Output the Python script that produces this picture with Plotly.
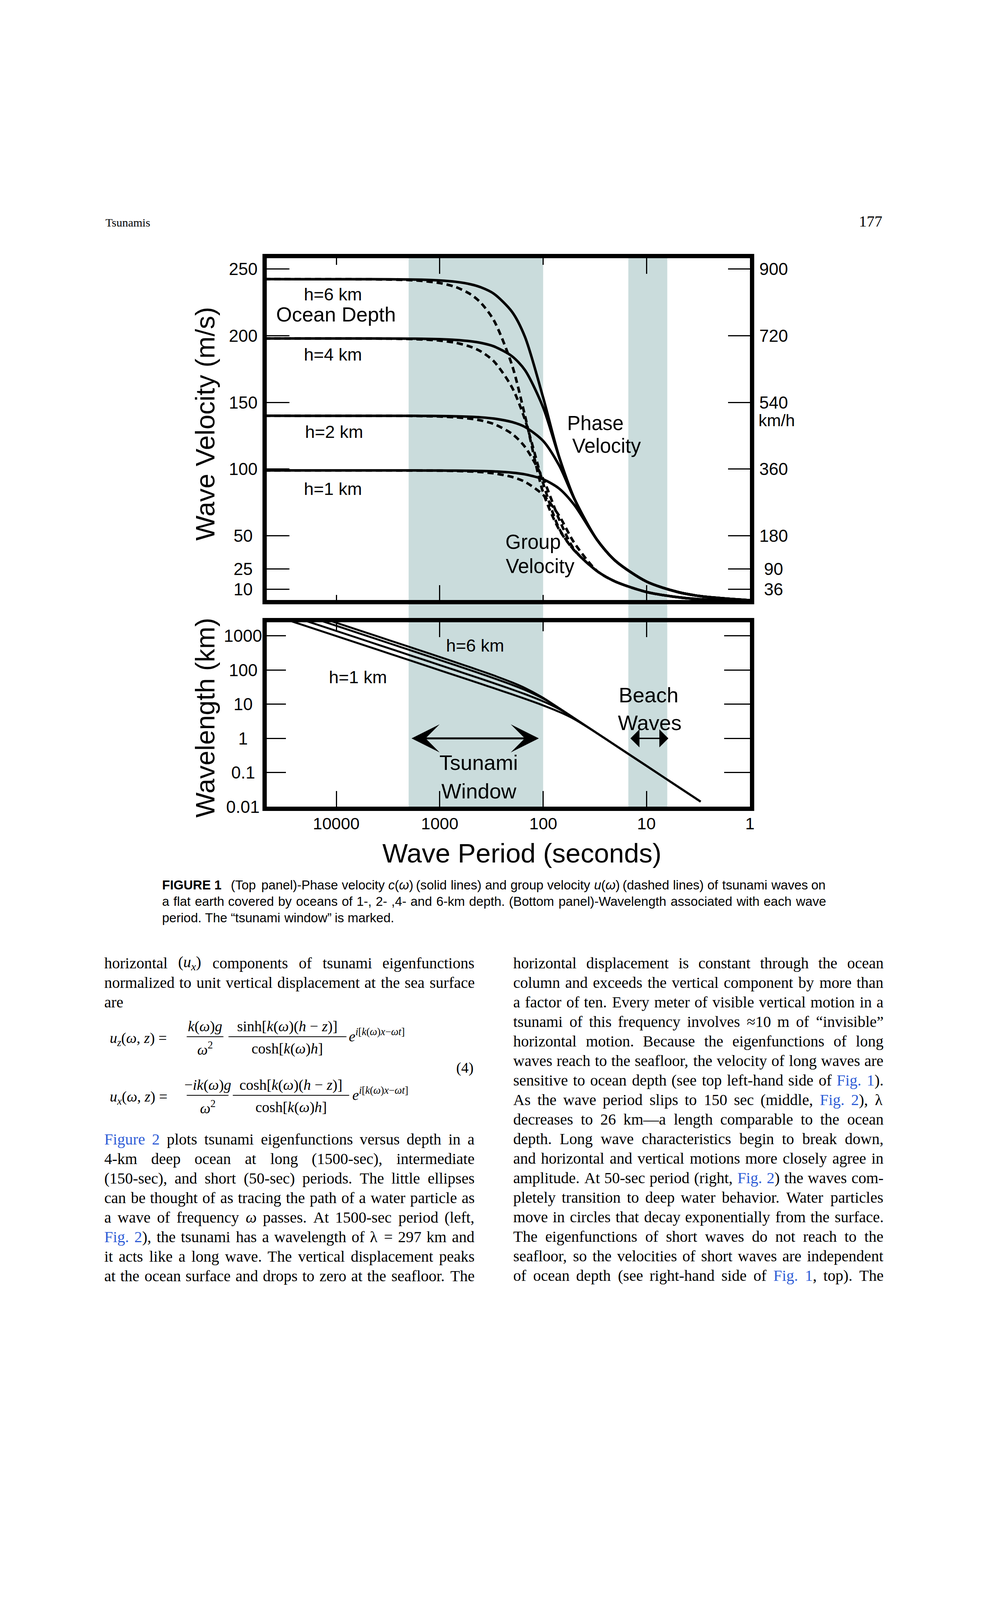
import math
import plotly.graph_objects as go

W, H = 2550, 4200

# ----------------------------- data -----------------------------
# wave period (s) sampled along the curves of the top panel
periods = [50000, 5000, 3000, 2000, 1500, 1000, 700, 500, 400, 300, 200,
           150, 100, 70, 50, 30, 20, 10, 5, 3, 1]

# phase velocity c (m/s), solid lines
phase_h1 = [99.0, 99.0, 98.99, 98.98, 98.97, 98.93, 98.86, 98.73, 98.58, 98.26, 97.34,
            96.04, 92.33, 85.41, 73.13, 46.78, 31.19, 15.60, 7.80, 4.68, 1.56]
phase_h2 = [140.0, 139.99, 139.98, 139.95, 139.92, 139.81, 139.61, 139.25, 138.83, 137.91, 135.29,
            131.61, 121.16, 102.75, 77.75, 46.79, 31.19, 15.60, 7.80, 4.68, 1.56]
phase_h4 = [198.0, 197.97, 197.93, 197.86, 197.75, 197.46, 196.91, 195.87, 194.68, 192.08, 184.66,
            174.28, 146.26, 108.88, 77.98, 46.79, 31.19, 15.60, 7.80, 4.68, 1.56]
phase_h6 = [242.5, 242.45, 242.38, 242.25, 242.06, 241.51, 240.50, 238.58, 236.37, 231.60, 217.97,
            199.22, 153.68, 109.17, 77.99, 46.79, 31.19, 15.60, 7.80, 4.68, 1.56]

# group velocity u (m/s), dashed lines
group_h1 = [99.0, 99.0, 98.98, 98.95, 98.91, 98.80, 98.59, 98.20, 97.75, 96.80, 94.12,
            90.45, 80.65, 64.98, 44.66, 23.45, 15.60, 7.80, 3.90, 2.34, 0.78]
group_h2 = [140.0, 139.98, 139.94, 139.86, 139.75, 139.43, 138.84, 137.76, 136.51, 133.84, 126.46,
            116.71, 92.66, 62.29, 39.66, 23.40, 15.60, 7.80, 3.90, 2.34, 0.78]
group_h4 = [198.0, 197.93, 197.81, 197.59, 197.28, 196.39, 194.77, 191.70, 188.24, 180.90, 161.30,
            137.20, 89.32, 55.42, 39.00, 23.40, 15.60, 7.80, 3.90, 2.34, 0.78]
group_h6 = [242.5, 242.37, 242.16, 241.76, 241.19, 239.57, 236.57, 230.99, 224.72, 211.65, 178.02,
            140.20, 82.42, 54.64, 39.00, 23.40, 15.60, 7.80, 3.90, 2.34, 0.78]

# bottom panel: wavelength (km) against period (s)
wl_periods = [50000, 5000, 3000, 2000, 1500, 1000, 700, 500, 400, 300, 200,
              150, 100, 70, 50, 30, 20, 10, 5, 3]
wl_h1 = [4950, 495.0, 297.0, 198.0, 148.5, 98.93, 69.20, 49.37, 39.43, 29.48, 19.47,
         14.41, 9.233, 5.979, 3.657, 1.403, 0.6238, 0.156, 0.039, 0.01404]
wl_h2 = [7000, 700.0, 419.9, 279.9, 209.9, 139.8, 97.73, 69.63, 55.53, 41.37, 27.06,
         19.74, 12.12, 7.193, 3.888, 1.404, 0.6238, 0.156, 0.039, 0.01404]
wl_h4 = [9900, 989.9, 593.8, 395.7, 296.6, 197.5, 137.8, 97.94, 77.87, 57.62, 36.93,
         26.14, 14.63, 7.622, 3.899, 1.404, 0.6238, 0.156, 0.039, 0.01404]
wl_h6 = [12125, 1212, 727.1, 484.5, 363.1, 241.5, 168.4, 119.3, 94.55, 69.48, 43.59,
         29.88, 15.37, 7.642, 3.900, 1.404, 0.6238, 0.156, 0.039, 0.01404]

# shaded period bands (s)
tsunami_window = [2000, 100]
beach_waves = [15, 6.3]
# double arrows (s) drawn at a wavelength of 1 km
tsunami_arrow = [1900, 110]
beach_arrow = [14.5, 6.15]

# tick values / labels
vel_ticks = [250, 200, 150, 100, 50, 25, 10]
vel_tick_text = ["250", "200", "150", "100", "50", "25", "10"]
kmh_tick_text = ["900", "720", "540", "360", "180", "90", "36"]
wl_ticks = [1000, 100, 10, 1, 0.1, 0.01]
wl_tick_text = ["1000", "100", "10", "1", "0.1", "0.01"]
period_ticks = [10000, 1000, 100, 10, 1]
period_tick_text = ["10000", "1000", "100", "10", "1"]

# ----------------------------- helpers -----------------------------
SANS = "Liberation Sans, Arial, Helvetica, sans-serif"
SERIF = "Liberation Serif, Times New Roman, serif"
LINK = "#2E5CD6"
SHADE = "#CADCDC"
OFF = 8  # default body margin of the html page


def px(x):
    return (x - OFF) / W


def py(y):
    return 1 - (y - OFF) / H


fig = go.Figure()

# ----------------------------- traces -----------------------------
for g in [group_h1, group_h2, group_h4, group_h6]:
    fig.add_trace(go.Scatter(x=periods, y=g, mode="lines", xaxis="x4", yaxis="y",
                             line=dict(color="black", width=6.5, dash="16px,10px",
                                       shape="spline", smoothing=0.8),
                             hoverinfo="skip", showlegend=False))
for c in [phase_h1, phase_h2, phase_h4, phase_h6]:
    fig.add_trace(go.Scatter(x=periods, y=c, mode="lines", xaxis="x", yaxis="y3",
                             line=dict(color="black", width=6.5, shape="spline", smoothing=0.8),
                             hoverinfo="skip", showlegend=False))

for wl, xa, ya in [(wl_h1, "x2", "y2"), (wl_h2, "x2", "y2"), (wl_h4, "x3", "y2"), (wl_h6, "x2", "y4")]:
    fig.add_trace(go.Scatter(x=wl_periods, y=wl, mode="lines", xaxis=xa, yaxis=ya,
                             line=dict(color="black", width=5, shape="spline", smoothing=0.6),
                             hoverinfo="skip", showlegend=False))

# ----------------------------- axes -----------------------------
X_DOMAIN = [px(683), px(1920)]
X_RANGE = [4.673, 0]
TOP_DOMAIN = [py(1536), py(661)]
BOT_DOMAIN = [py(2065), py(1593)]
VEL_RANGE = [1.8, 258.2]
WL_RANGE = [-2, 3.4]

base = dict(showgrid=False, zeroline=False, tickcolor="black", tickwidth=3, linecolor="black")


def minor(length):
    return dict(tickvals=[10000, 100], ticks="inside", ticklen=length,
                tickwidth=3, tickcolor="black")


fig.update_layout(
    # top panel, bottom side
    xaxis=dict(base, type="log", domain=X_DOMAIN, range=X_RANGE, anchor="y",
               ticks="inside", tickvals=[1000, 10], ticklen=38, showticklabels=False,
               showline=True, linewidth=11, mirror=True, minor=minor(13)),
    # top panel, top side
    xaxis4=dict(base, type="log", overlaying="x", side="top", anchor="y", range=X_RANGE,
                ticks="inside", tickvals=[1000, 10], ticklen=40, showticklabels=False,
                showline=False, minor=minor(17)),
    yaxis=dict(base, domain=TOP_DOMAIN, range=VEL_RANGE, anchor="x",
               ticks="inside", tickvals=vel_ticks, ticklen=58, showticklabels=False,
               showline=True, linewidth=11, mirror=True),
    yaxis3=dict(base, overlaying="y", side="right", anchor="x", range=VEL_RANGE,
                ticks="inside", tickvals=vel_ticks, ticklen=56, showticklabels=False,
                showline=False),
    # bottom panel
    xaxis2=dict(base, type="log", domain=X_DOMAIN, range=X_RANGE, anchor="y2",
                ticks="inside", tickvals=[10000, 1000, 100, 10], ticklen=40,
                showticklabels=False, showline=True, linewidth=11, mirror=True),
    xaxis3=dict(base, type="log", overlaying="x2", side="top", anchor="y2", range=X_RANGE,
                ticks="inside", tickvals=[1000, 10], ticklen=38, showticklabels=False,
                showline=False, minor=minor(23)),
    yaxis2=dict(base, type="log", domain=BOT_DOMAIN, range=WL_RANGE, anchor="x2",
                ticks="inside", tickvals=[1000, 100, 10, 1, 0.1], ticklen=49,
                showticklabels=False, showline=True, linewidth=11, mirror=True),
    yaxis4=dict(base, type="log", overlaying="y2", side="right", anchor="x2", range=WL_RANGE,
                ticks="inside", tickvals=[1000, 100, 10, 1, 0.1], ticklen=66,
                showticklabels=False, showline=False),
)

# ----------------------------- shaded bands -----------------------------
shapes = []
for band in [tsunami_window, beach_waves]:
    shapes.append(dict(type="rect", xref="x", yref="paper", x0=band[0], x1=band[1],
                       y0=py(2070), y1=py(656), fillcolor=SHADE,
                       line=dict(width=0), layer="below"))

# ----------------------------- annotations -----------------------------
ann = []


def label(text, x, y, size, xref="paper", yref="paper", xanchor="center",
          yanchor="middle", family=SANS, color="black", **kw):
    ann.append(dict(text=text, x=x, y=y, xref=xref, yref=yref, xanchor=xanchor,
                    yanchor=yanchor, showarrow=False,
                    font=dict(family=family, size=size, color=color), **kw))


# tick labels
for v, t in zip(vel_ticks, vel_tick_text):
    label(t, px(622), v, 44, yref="y")
for v, t in zip(vel_ticks, kmh_tick_text):
    label(t, px(1980), v, 44, yref="y")
label("km/h", px(1988), py(1076), 43)
for v, t in zip(wl_ticks, wl_tick_text):
    label(t, px(622), math.log10(v), 44, yref="y2")
for v, t in zip(period_ticks, period_tick_text):
    label(t, math.log10(v), py(2108), 43, xref="x2")

# axis titles
label("Wave Velocity (m/s)", px(525), py(1085), 68, textangle=-90)
label("Wavelength (km)", px(525), py(1838), 68, textangle=-90)
label("Wave Period (seconds)", px(1337), py(2184), 69)

# in-plot labels, top panel
label("h=6 km", px(852), py(754), 45)
label("Ocean Depth", px(860), py(805), 52)
label("h=4 km", px(852), py(907), 45)
label("h=2 km", px(855), py(1105), 45)
label("h=1 km", px(852), py(1251), 45)
label("Phase", px(1525), py(1083), 51)
label("Velocity", px(1553), py(1141), 51)
label("Group", px(1365), py(1387), 51)
label("Velocity", px(1383), py(1449), 51)

# in-plot labels, bottom panel
label("h=6 km", px(1216), py(1653), 45)
label("h=1 km", px(917), py(1733), 45)
label("Tsunami", px(1225), py(1952), 54)
label("Window", px(1226), py(2025), 54)
label("Beach", px(1660), py(1779), 54)
label("Waves", px(1663), py(1850), 54)

# double arrows
for arr, head, w, s in [(tsunami_arrow, 3, 5, 2.4), (beach_arrow, 1, 3.5, 2.2)]:
    ann.append(dict(x=math.log10(arr[1]), y=0, ax=math.log10(arr[0]), ay=0,
                    xref="x2", yref="y2", axref="x2", ayref="y2", text="",
                    showarrow=True, arrowhead=head, startarrowhead=head,
                    arrowside="end+start", arrowwidth=w, arrowsize=s,
                    startarrowsize=s, arrowcolor="black", standoff=0, startstandoff=0))

# ----------------------------- page text -----------------------------
TIMES = {' ': .25, '!': .333, '(': .333, ')': .333, ',': .25, '-': .333, '.': .25, '/': .278,
         ':': .278, ';': .278, '=': .564, '?': .444, '[': .333, ']': .333,
         'A': .722, 'B': .667, 'C': .667, 'D': .722, 'E': .611, 'F': .556, 'G': .722, 'H': .722,
         'I': .333, 'J': .389, 'K': .722, 'L': .611, 'M': .889, 'N': .722, 'O': .722, 'P': .556,
         'Q': .722, 'R': .667, 'S': .556, 'T': .611, 'U': .722, 'V': .722, 'W': .944, 'X': .722,
         'Y': .722, 'Z': .611, 'a': .444, 'b': .5, 'c': .444, 'd': .5, 'e': .444, 'f': .333,
         'g': .5, 'h': .5, 'i': .278, 'j': .278, 'k': .5, 'l': .278, 'm': .778, 'n': .5, 'o': .5,
         'p': .5, 'q': .5, 'r': .333, 's': .389, 't': .278, 'u': .5, 'v': .5, 'w': .722, 'x': .5,
         'y': .5, 'z': .444, '—': 1.0, '“': .444, '”': .444, 'λ': .549, 'ω': .686, '≈': .549}
for d in "0123456789":
    TIMES[d] = .5
ARIAL = {' ': .278, '(': .333, ')': .333, ',': .278, '-': .333, '.': .278, '/': .278,
         'A': .667, 'B': .667, 'C': .722, 'D': .722, 'E': .667, 'F': .611, 'G': .778, 'H': .722,
         'I': .278, 'P': .667, 'T': .611, 'U': .722, 'R': .722, 'W': .944,
         'a': .556, 'b': .556, 'c': .5, 'd': .556, 'e': .556, 'f': .278, 'g': .556, 'h': .556,
         'i': .222, 'j': .222, 'k': .5, 'l': .222, 'm': .833, 'n': .556, 'o': .556, 'p': .556,
         'q': .556, 'r': .333, 's': .5, 't': .278, 'u': .556, 'v': .5, 'w': .722, 'x': .5,
         'y': .5, 'z': .5, '“': .333, '”': .333, 'ω': .686}
for d in "0123456789":
    ARIAL[d] = .556


def parse(line, table, size):
    """Split a marked-up line into words: [..] link, {..} italic, _x subscript."""
    tokens = []
    link = ital = False
    for word in line.split(" "):
        runs, width, sub_next = [], 0.0, False
        for ch in word:
            if ch == "[":
                link = True
                continue
            if ch == "]":
                link = False
                continue
            if ch == "{":
                ital = True
                continue
            if ch == "}":
                ital = False
                continue
            if ch == "_":
                sub_next = True
                continue
            sub, sub_next = sub_next, False
            width += table.get(ch, 0.5) * (0.7 if sub else 1.0)
            state = (link, ital, sub)
            if runs and tuple(runs[-1][1:]) == state:
                runs[-1][0] += ch
            else:
                runs.append([ch, link, ital, sub])
        html = ""
        for t, lk, it, sb in runs:
            h = t
            if sb:
                h = "<sub>%s</sub>" % h
            if it:
                h = "<i>%s</i>" % h
            if lk:
                h = "<span style='color:%s'>%s</span>" % (LINK, h)
            html += h
        tokens.append((html, width * size))
    return tokens


def place_line(line, x0, x1, y, size, family, table, just=True):
    toks = parse(line, table, size)
    total = sum(w for _, w in toks)
    if just and len(toks) > 1:
        gap = (x1 - x0 - total) / (len(toks) - 1)
    else:
        gap = table[" "] * size
    x = x0
    for h, w in toks:
        label(h, px(x), py(y), size, family=family, xanchor="left", borderpad=0)
        x += w + gap


# page header
label("Tsunamis", px(268), py(569), 30, family=SERIF, xanchor="left")
label("177", px(2261), py(566), 40, family=SERIF, xanchor="right")

# caption
CAP = 33
fig_w = (.611 + .278 + .778 + .722 + .722 + .667 + .278 + .556) * CAP
label("<b>FIGURE 1</b>", px(414), py(2265), CAP, xanchor="left", borderpad=0)
place_line("(Top panel)-Phase velocity {c}({ω}) (solid lines) and group velocity {u}({ω}) "
           "(dashed lines) of tsunami waves on", 414 + fig_w + 2.6 * .278 * CAP, 2113, 2265,
           CAP, SANS, ARIAL)
place_line("a flat earth covered by oceans of 1-, 2- ,4- and 6-km depth. (Bottom panel)-Wavelength "
           "associated with each wave", 414, 2113, 2307, CAP, SANS, ARIAL)
place_line("period. The “tsunami window” is marked.", 414, 2113, 2349, CAP, SANS, ARIAL, just=False)

left_top = [
    ("horizontal ({u_x}) components of tsunami eigenfunctions", True),
    ("normalized to unit vertical displacement at the sea surface", True),
    ("are", False),
]
left_bottom = [
    "[Figure 2] plots tsunami eigenfunctions versus depth in a",
    "4-km deep ocean at long (1500-sec), intermediate",
    "(150-sec), and short (50-sec) periods. The little ellipses",
    "can be thought of as tracing the path of a water particle as",
    "a wave of frequency {ω} passes. At 1500-sec period (left,",
    "[Fig. 2]), the tsunami has a wavelength of λ = 297 km and",
    "it acts like a long wave. The vertical displacement peaks",
    "at the ocean surface and drops to zero at the seafloor. The",
]
right_col = [
    "horizontal displacement is constant through the ocean",
    "column and exceeds the vertical component by more than",
    "a factor of ten. Every meter of visible vertical motion in a",
    "tsunami of this frequency involves ≈10 m of “invisible”",
    "horizontal motion. Because the eigenfunctions of long",
    "waves reach to the seafloor, the velocity of long waves are",
    "sensitive to ocean depth (see top left-hand side of [Fig. 1]).",
    "As the wave period slips to 150 sec (middle, [Fig. 2]), λ",
    "decreases to 26 km—a length comparable to the ocean",
    "depth. Long wave characteristics begin to break down,",
    "and horizontal and vertical motions more closely agree in",
    "amplitude. At 50-sec period (right, [Fig. 2]) the waves com-",
    "pletely transition to deep water behavior. Water particles",
    "move in circles that decay exponentially from the surface.",
    "The eigenfunctions of short waves do not reach to the",
    "seafloor, so the velocities of short waves are independent",
    "of ocean depth (see right-hand side of [Fig. 1], top). The",
]
BODY = 40
LX0, LX1, RX0, RX1 = 266, 1214, 1313, 2261
for i, (t, j) in enumerate(left_top):
    place_line(t, LX0, LX1, 2465 + 50 * i, BODY, SERIF, TIMES, just=j)
for i, t in enumerate(left_bottom):
    place_line(t, LX0, LX1, 2916 + 50 * i, BODY, SERIF, TIMES)
for i, t in enumerate(right_col):
    place_line(t, RX0, RX1, 2465 + 50 * i, BODY, SERIF, TIMES)

# equation (4)
EQ = 38
for dy, lhs, num1, bar1, num2, bar2, xe in [
    (0, "<i>u<sub>z</sub></i>(<i>ω</i>, <i>z</i>) =", "<i>k</i>(<i>ω</i>)<i>g</i>", (478, 572),
     "sinh[<i>k</i>(<i>ω</i>)(<i>h</i> − <i>z</i>)]", (585, 887), 891),
    (150, "<i>u<sub>x</sub></i>(<i>ω</i>, <i>z</i>) =", "−<i>ik</i>(<i>ω</i>)<i>g</i>", (478, 585),
     "cosh[<i>k</i>(<i>ω</i>)(<i>h</i> − <i>z</i>)]", (596, 894), 900),
]:
    label(lhs, px(279), py(2660 + dy), EQ, family=SERIF, xanchor="left")
    label(num1, px((bar1[0] + bar1[1]) / 2), py(2627 + dy), EQ, family=SERIF)
    label("<i>ω</i><sup>2</sup>", px((bar1[0] + bar1[1]) / 2), py(2684 + dy), EQ, family=SERIF)
    label(num2, px((bar2[0] + bar2[1]) / 2), py(2627 + dy), EQ, family=SERIF)
    label("cosh[<i>k</i>(<i>ω</i>)<i>h</i>]", px((bar2[0] + bar2[1]) / 2), py(2684 + dy), EQ, family=SERIF)
    label("<i>e</i><sup><i>i</i>[<i>k</i>(<i>ω</i>)<i>x</i>−<i>ωt</i>]</sup>", px(xe), py(2650 + dy), EQ,
          family=SERIF, xanchor="left")
    for b in (bar1, bar2):
        shapes.append(dict(type="line", xref="paper", yref="paper", x0=px(b[0]), x1=px(b[1]),
                           y0=py(2654 + dy), y1=py(2654 + dy), line=dict(color="black", width=2)))
label("(4)", px(1214), py(2733), EQ, family=SERIF, xanchor="right")

fig.update_layout(
    width=W, height=H, autosize=False,
    margin=dict(l=0, r=0, t=0, b=0),
    paper_bgcolor="white", plot_bgcolor="rgba(0,0,0,0)",
    shapes=shapes, annotations=ann, showlegend=False,
    font=dict(family=SANS, color="black"),
)

fig.write_html("out.html")
